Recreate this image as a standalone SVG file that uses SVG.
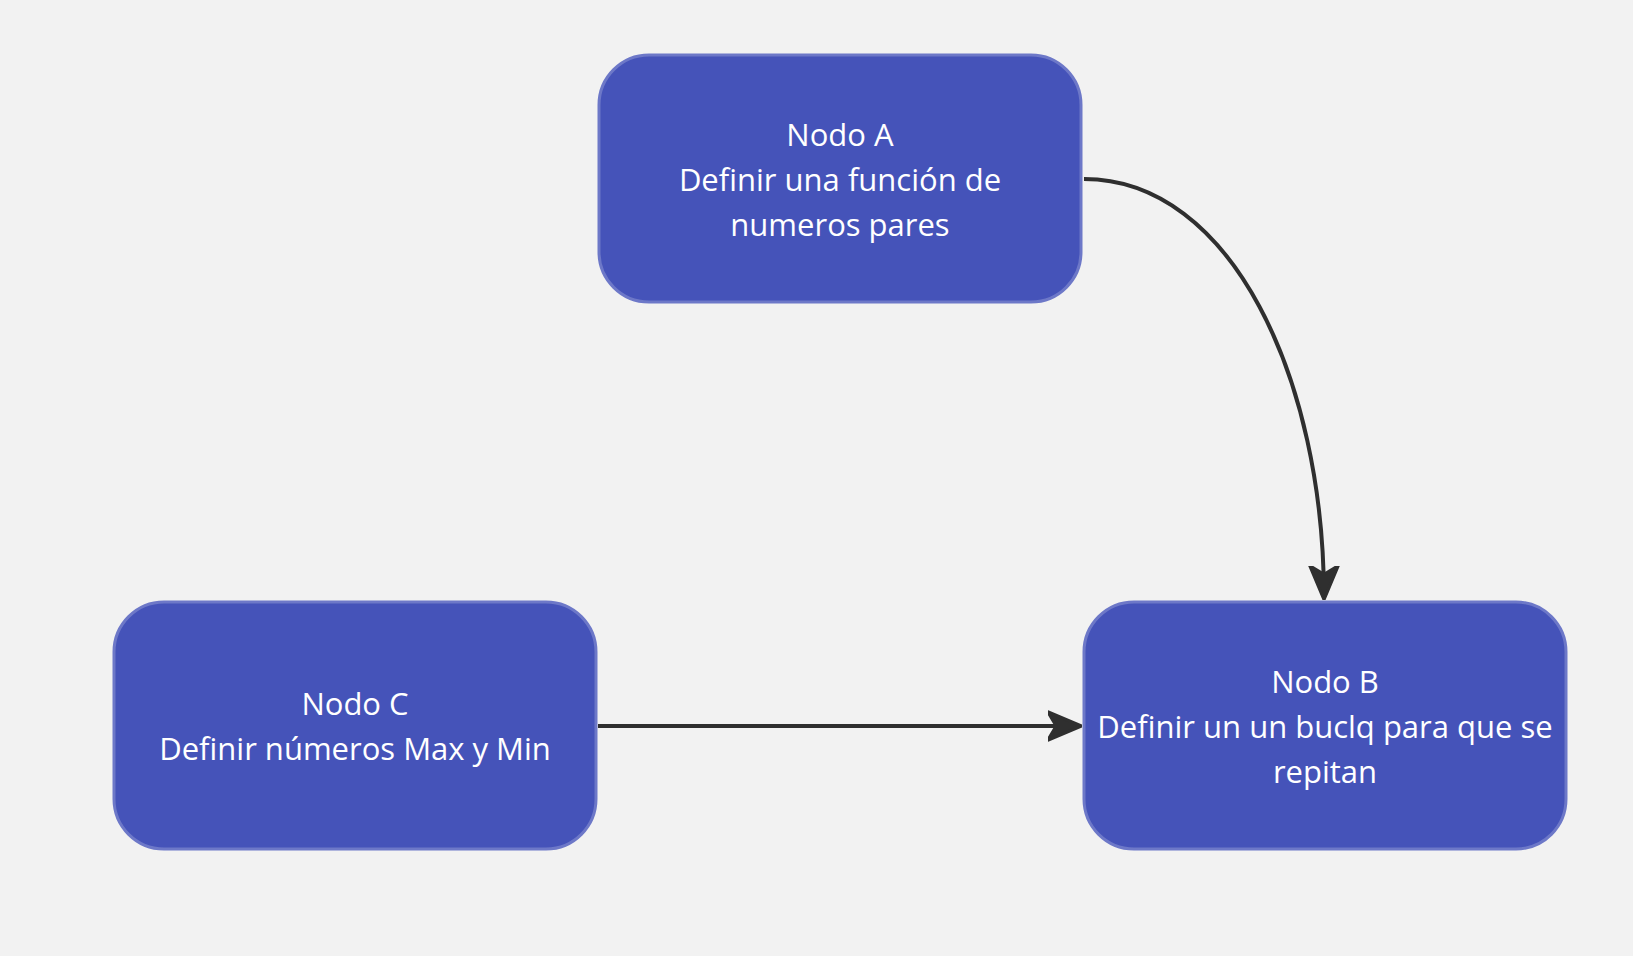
<svg xmlns="http://www.w3.org/2000/svg" width="1633" height="956" viewBox="0 0 1633 956">
<style>
.node rect{fill:#4553b9;stroke:#6d78c8;stroke-width:3}
.node text{fill:#ffffff;font-family:"Open Sans","Noto Sans",sans-serif;font-size:31px;text-anchor:middle}
.edge{fill:none;stroke:#2f2f2f;stroke-width:4}
</style>
<defs>
<marker id="arr" viewBox="0 0 10 10" refX="9.5" refY="5" markerWidth="8.5" markerHeight="8.5" markerUnits="strokeWidth" orient="auto">
<path d="M0,0.8 L10,5 L0,9.2 L2.5,5 Z" fill="#2f2f2f" stroke="#2f2f2f" stroke-width="0.9" stroke-linejoin="round"/>
</marker>
</defs>
<rect width="1633" height="956" fill="#f2f2f2"/>
<g id="connectors">
<path class="edge" d="M1084,179 C1232,179 1324,380 1324,598" marker-end="url(#arr)"/>
<path class="edge" d="M598,726 L1080,726" marker-end="url(#arr)"/>
</g>
<g id="nodeA" class="node">
<rect x="599" y="55" width="482" height="247" rx="50"/>
<text x="840" y="146">Nodo A</text>
<text x="840" y="191">Definir una función de</text>
<text x="840" y="236">numeros pares</text>
</g>
<g id="nodeC" class="node">
<rect x="114" y="602" width="482" height="247" rx="50"/>
<text x="355" y="715">Nodo C</text>
<text x="355" y="760">Definir números Max y Min</text>
</g>
<g id="nodeB" class="node">
<rect x="1084" y="602" width="482" height="247" rx="50"/>
<text x="1325" y="693">Nodo B</text>
<text x="1325" y="738">Definir un un buclq para que se</text>
<text x="1325" y="783">repitan</text>
</g>
</svg>
